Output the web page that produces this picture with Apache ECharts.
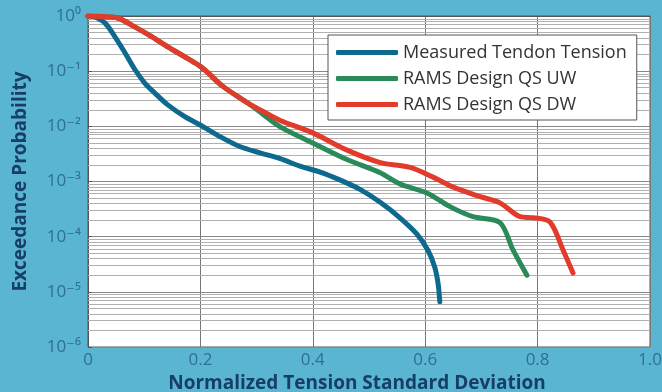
<!DOCTYPE html>
<html>
<head>
<meta charset="utf-8">
<script src="https://cdn.jsdelivr.net/npm/echarts@6/dist/echarts.min.js"></script>
<style>
  html, body { margin: 0; padding: 0; background: #5ab5d3; }
  #chart { width: 662px; height: 392px; }
</style>
</head>
<body>
<div id="chart"></div>
<script>
// Exceedance probability curves: [normalized std dev, probability]
const measured = [
  [0, 1], [0.012, 0.96], [0.030, 0.75], [0.048, 0.42], [0.066, 0.214],
  [0.084, 0.105], [0.101, 0.061], [0.119, 0.040], [0.142, 0.0245],
  [0.173, 0.0148], [0.199, 0.0107], [0.235, 0.0065], [0.270, 0.0043],
  [0.306, 0.0033], [0.342, 0.0026], [0.377, 0.0019], [0.413, 0.00148],
  [0.448, 0.00107], [0.484, 0.00072], [0.520, 0.00042], [0.555, 0.00022],
  [0.585, 0.000112], [0.605, 0.000056], [0.617, 0.000028], [0.623, 0.000014],
  [0.626, 0.0000066]
];
const designUW = [
  [0, 1], [0.025, 0.98], [0.053, 0.92], [0.084, 0.63], [0.114, 0.42],
  [0.142, 0.275], [0.173, 0.18], [0.196, 0.13], [0.208, 0.105],
  [0.240, 0.053], [0.283, 0.027], [0.310, 0.017], [0.342, 0.0098],
  [0.400, 0.005], [0.461, 0.0025], [0.520, 0.00144], [0.555, 0.0009],
  [0.603, 0.00062], [0.644, 0.00035], [0.685, 0.00023], [0.733, 0.00018],
  [0.756, 0.000058], [0.781, 0.00002]
];
const designDW = [
  [0, 1], [0.025, 0.98], [0.053, 0.92], [0.084, 0.63], [0.114, 0.42],
  [0.142, 0.275], [0.173, 0.18], [0.196, 0.13], [0.208, 0.105],
  [0.240, 0.053], [0.283, 0.027], [0.310, 0.019], [0.342, 0.0128],
  [0.400, 0.0076], [0.461, 0.0037], [0.520, 0.0022], [0.573, 0.0018],
  [0.614, 0.0012], [0.649, 0.0008], [0.698, 0.00053], [0.733, 0.00041],
  [0.769, 0.00023], [0.792, 0.00022], [0.822, 0.000185], [0.845, 0.000058],
  [0.863, 0.000022]
];
const seriesNames = ['Measured Tendon Tension', 'RAMS Design QS UW', 'RAMS Design QS DW'];
const seriesColors = ['#0d6a8e', '#2b8a5a', '#e23b2b'];

// decades spanned by the log axis, and the in-between minor grid steps
const decades = [-6, -5, -4, -3, -2, -1];
const minorSteps = [2, 3, 4, 5, 6, 7, 8, 9];

const sup = { '0': '⁰', '1': '¹', '2': '²', '3': '³', '4': '⁴', '5': '⁵', '6': '⁶', '-': '⁻' };
function powerLabel(v) {
  const e = Math.round(Math.log10(v));
  return '10' + String(e).split('').map(c => sup[c]).join('');
}

// minor grid lines, placed on a hidden exponent axis that spans the same decades
const minorLines = [];
decades.forEach(d => minorSteps.forEach(m => minorLines.push({ yAxis: d + Math.log10(m) })));

const chart = echarts.init(document.getElementById('chart'));
const font = '"Open Sans", "DejaVu Sans", sans-serif';

chart.setOption({
  backgroundColor: '#5ab5d3',
  animation: false,
  grid: {
    left: 88, right: 12, top: 16, bottom: 45, outerBoundsMode: 'none',
    show: true, backgroundColor: '#ffffff', borderColor: '#555', borderWidth: 1
  },
  legend: {
    orient: 'vertical', left: 328, top: 35, z: 10,
    backgroundColor: '#ffffff', borderColor: '#555', borderWidth: 1,
    padding: [8, 10, 6, 8], itemGap: 7, itemTextGap: 7,
    itemWidth: 62, itemHeight: 5, icon: 'roundRect',
    textStyle: { fontFamily: font, fontSize: 18, lineHeight: 19, color: '#333' },
    data: seriesNames
  },
  xAxis: {
    type: 'value', min: 0, max: 1, interval: 0.2,
    name: 'Normalized Tension Standard Deviation', nameLocation: 'middle', nameGap: 21,
    nameTextStyle: { fontFamily: font, fontSize: 19, fontWeight: 'bold', color: '#173e66', padding: [0, 24, 0, 0] },
    axisLine: { show: true, lineStyle: { color: '#555' } },
    axisTick: { show: false },
    axisLabel: { fontFamily: font, fontSize: 17, color: '#2f6f93', margin: 5,
      formatter: v => (v === 0 ? '0' : v.toFixed(1)) },
    splitLine: { show: true, lineStyle: { color: '#777', width: 1 } }
  },
  yAxis: [
    {
      type: 'log', logBase: 10, min: 1e-6, max: 1,
      name: 'Exceedance Probability', nameLocation: 'middle', nameGap: 58,
      nameTextStyle: { fontFamily: font, fontSize: 19, fontWeight: 'bold', color: '#173e66' },
      axisLine: { show: true, lineStyle: { color: '#555' } },
      axisTick: { show: true, inside: true, length: 4, lineStyle: { color: '#555' } },
      axisLabel: { fontFamily: font, fontSize: 17, color: '#2f6f93', margin: 7, formatter: powerLabel },
      splitLine: { show: true, lineStyle: { color: '#888', width: 1 } }
    },
    {
      type: 'value', min: -6, max: 0, show: false,
      splitLine: { show: false }
    }
  ],
  series: [
    {
      name: 'grid-minor', type: 'line', yAxisIndex: 1, data: [], silent: true,
      markLine: {
        silent: true, symbol: 'none', animation: false, z: 1,
        label: { show: false },
        lineStyle: { color: '#b0b0b0', width: 1, type: 'solid' },
        data: minorLines
      }
    },
    ...[measured, designUW, designDW].map((d, i) => ({
      name: seriesNames[i], type: 'line', data: d, z: 3,
      smooth: 0.3, showSymbol: false, symbol: 'none',
      lineStyle: { width: 5, color: seriesColors[i], cap: 'round', join: 'round' },
      itemStyle: { color: seriesColors[i] }
    }))
  ]
});
</script>
</body>
</html>
